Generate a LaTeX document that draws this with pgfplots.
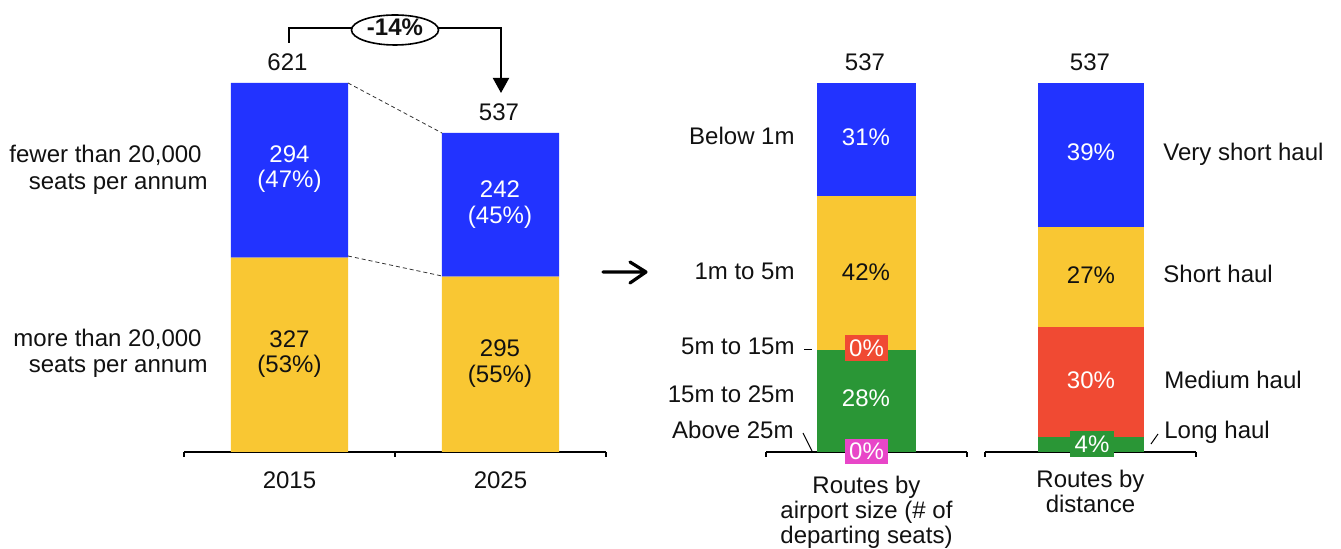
\documentclass[border=0pt]{standalone}
\usepackage{pgfplots}
\pgfplotsset{compat=1.18}
\usepackage{fontspec}
\setmainfont{Liberation Sans}
\usetikzlibrary{arrows.meta}
\definecolor{cblue}{HTML}{2233FF}
\definecolor{cyellow}{HTML}{F9C733}
\definecolor{cred}{HTML}{F04A33}
\definecolor{cgreen}{HTML}{2A9636}
\definecolor{cmag}{HTML}{E846C8}
\definecolor{ctext}{HTML}{111111}
\newcommand\fs{\fontsize{12}{12.3}\selectfont}
\pgfplotsset{
  bracketaxis/.style={
    scale only axis, height=184.5pt, ymin=0,
    ybar stacked, clip=false,
    axis y line=none, ytick=\empty,
    axis x line*=bottom,
    x axis line style={-, line width=0.8pt, black},
    tick align=outside, major tick length=2.5pt,
    xtick style={draw=none},
    extra x tick style={xtick style={draw=black, line width=0.8pt}},
    extra x tick labels={},
    xticklabel style={font=\fs, inner sep=0pt, anchor=north, align=center, text=ctext},
  }
}
\begin{document}
\fs
\begin{tikzpicture}
\useasboundingbox (0,0) rectangle (670.5pt,-274.5pt);
% ---------- left: totals 2015 vs 2025 ----------
\begin{axis}[bracketaxis, at={(92pt,-226pt)}, anchor=south west,
  width=211pt, xmin=-0.5, xmax=1.5, ymax=621, bar width=0.555,
  xtick={0,1}, xticklabels={2015,2025},
  extra x ticks={-0.5,0.5,1.5},
  xticklabel style={yshift=-7pt}]
\addplot[fill=cyellow, draw=none] coordinates {(0,327) (1,295)};
\addplot[fill=cblue, draw=none] coordinates {(0,294) (1,242)};
\end{axis}
% ---------- right 1: by airport size ----------
\begin{axis}[bracketaxis, at={(383pt,-226pt)}, anchor=south west,
  width=100.5pt, xmin=-0.5, xmax=0.5, ymax=101, bar width=0.4975,
  xtick={0}, xticklabels={{Routes by\\airport size (\# of\\departing seats)}},
  extra x ticks={-0.5,0.5},
  xticklabel style={yshift=-9.6pt}]
\addplot[fill=cmag, draw=none] coordinates {(0,0)};
\addplot[fill=cgreen, draw=none] coordinates {(0,28)};
\addplot[fill=cred, draw=none] coordinates {(0,0)};
\addplot[fill=cyellow, draw=none] coordinates {(0,42)};
\addplot[fill=cblue, draw=none] coordinates {(0,31)};
\end{axis}
% ---------- right 2: by distance ----------
\begin{axis}[bracketaxis, at={(492.5pt,-226pt)}, anchor=south west,
  width=105.5pt, xmin=-0.5, xmax=0.5, ymax=100, bar width=0.5024,
  xtick={0}, xticklabels={{Routes by\\distance}},
  extra x ticks={-0.5,0.5},
  xticklabel style={yshift=-6.5pt}]
\addplot[fill=cgreen, draw=none] coordinates {(0,4)};
\addplot[fill=cred, draw=none] coordinates {(0,30)};
\addplot[fill=cyellow, draw=none] coordinates {(0,27)};
\addplot[fill=cblue, draw=none] coordinates {(0,39)};
\end{axis}
% ---------- annotations (pixel coordinates) ----------
\begin{scope}[x=0.5pt, y=-0.5pt, every node/.style={inner sep=0pt, font=\fs, text=ctext}]
% dashed connectors
\draw[dash pattern=on 2pt off 1.5pt, line width=0.4pt, black!80] (348,83) -- (442,133);
\draw[dash pattern=on 2pt off 1.5pt, line width=0.4pt, black!80] (348,256) -- (442,276);
% change bracket
\draw[line width=1pt, -{Triangle[length=7.5pt, width=8pt]}] (289,43) -- (289,28) -- (501,28) -- (501,93);
\draw[line width=0.8pt, fill=white] (395,30) ellipse [x radius=21.75pt, y radius=7.5pt];
\node[anchor=base, font=\fs\bfseries] at (395,36) {-14\%};
% totals
\node[anchor=base] at (287.5,71) {621};
\node[anchor=base] at (499,121) {537};
\node[anchor=base] at (865,71) {537};
\node[anchor=base] at (1090,71) {537};
% left category labels
\node[anchor=base east] at (202,163) {fewer than 20,000};
\node[anchor=base east] at (208,190) {seats per annum};
\node[anchor=base east] at (202,347) {more than 20,000};
\node[anchor=base east] at (208,373) {seats per annum};
% left bar labels
\node[anchor=base, text=white] at (289.5,163) {294};
\node[anchor=base, text=white] at (289.5,188) {(47\%)};
\node[anchor=base, text=white] at (500,198) {242};
\node[anchor=base, text=white] at (500,224) {(45\%)};
\node[anchor=base] at (289.5,348) {327};
\node[anchor=base] at (289.5,373) {(53\%)};
\node[anchor=base] at (500,357) {295};
\node[anchor=base] at (500,383) {(55\%)};
% arrow
\draw[line width=1.6pt, line cap=round, line join=round] (603,272) -- (646,272) (630,262) -- (646,272) -- (630,283);
% airport-size labels
\node[anchor=base east] at (795,145) {Below 1m};
\node[anchor=base east] at (795,280) {1m to 5m};
\node[anchor=base east] at (795,355) {5m to 15m};
\node[anchor=base east] at (795,403) {15m to 25m};
\node[anchor=base east] at (794,439) {Above 25m};
\draw[line width=0.5pt] (804,350) -- (812,350);
\draw[line width=0.5pt] (803,433) -- (812,451);
\node[anchor=base, text=white] at (866,146) {31\%};
\node[anchor=base] at (866,281) {42\%};
\node[anchor=base, text=white] at (866,407) {28\%};
\node[fill=cred, minimum width=21.5pt, minimum height=13pt, text=white] at (866.5,348) {0\%};
\node[fill=cmag, minimum width=21.5pt, minimum height=12.5pt, text=white] at (866.5,451.5) {0\%};
% distance labels
\node[anchor=base west] at (1163,161) {Very short haul};
\node[anchor=base west] at (1163,283) {Short haul};
\node[anchor=base west] at (1164,389) {Medium haul};
\node[anchor=base west] at (1164,439) {Long haul};
\draw[line width=0.5pt] (1151,444) -- (1158,434);
\node[anchor=base, text=white] at (1091,161) {39\%};
\node[anchor=base] at (1091,284) {27\%};
\node[anchor=base, text=white] at (1091,389) {30\%};
\node[fill=cgreen, minimum width=22pt, minimum height=13pt, text=white] at (1092,444) {4\%};
\end{scope}
\end{tikzpicture}
\end{document}
